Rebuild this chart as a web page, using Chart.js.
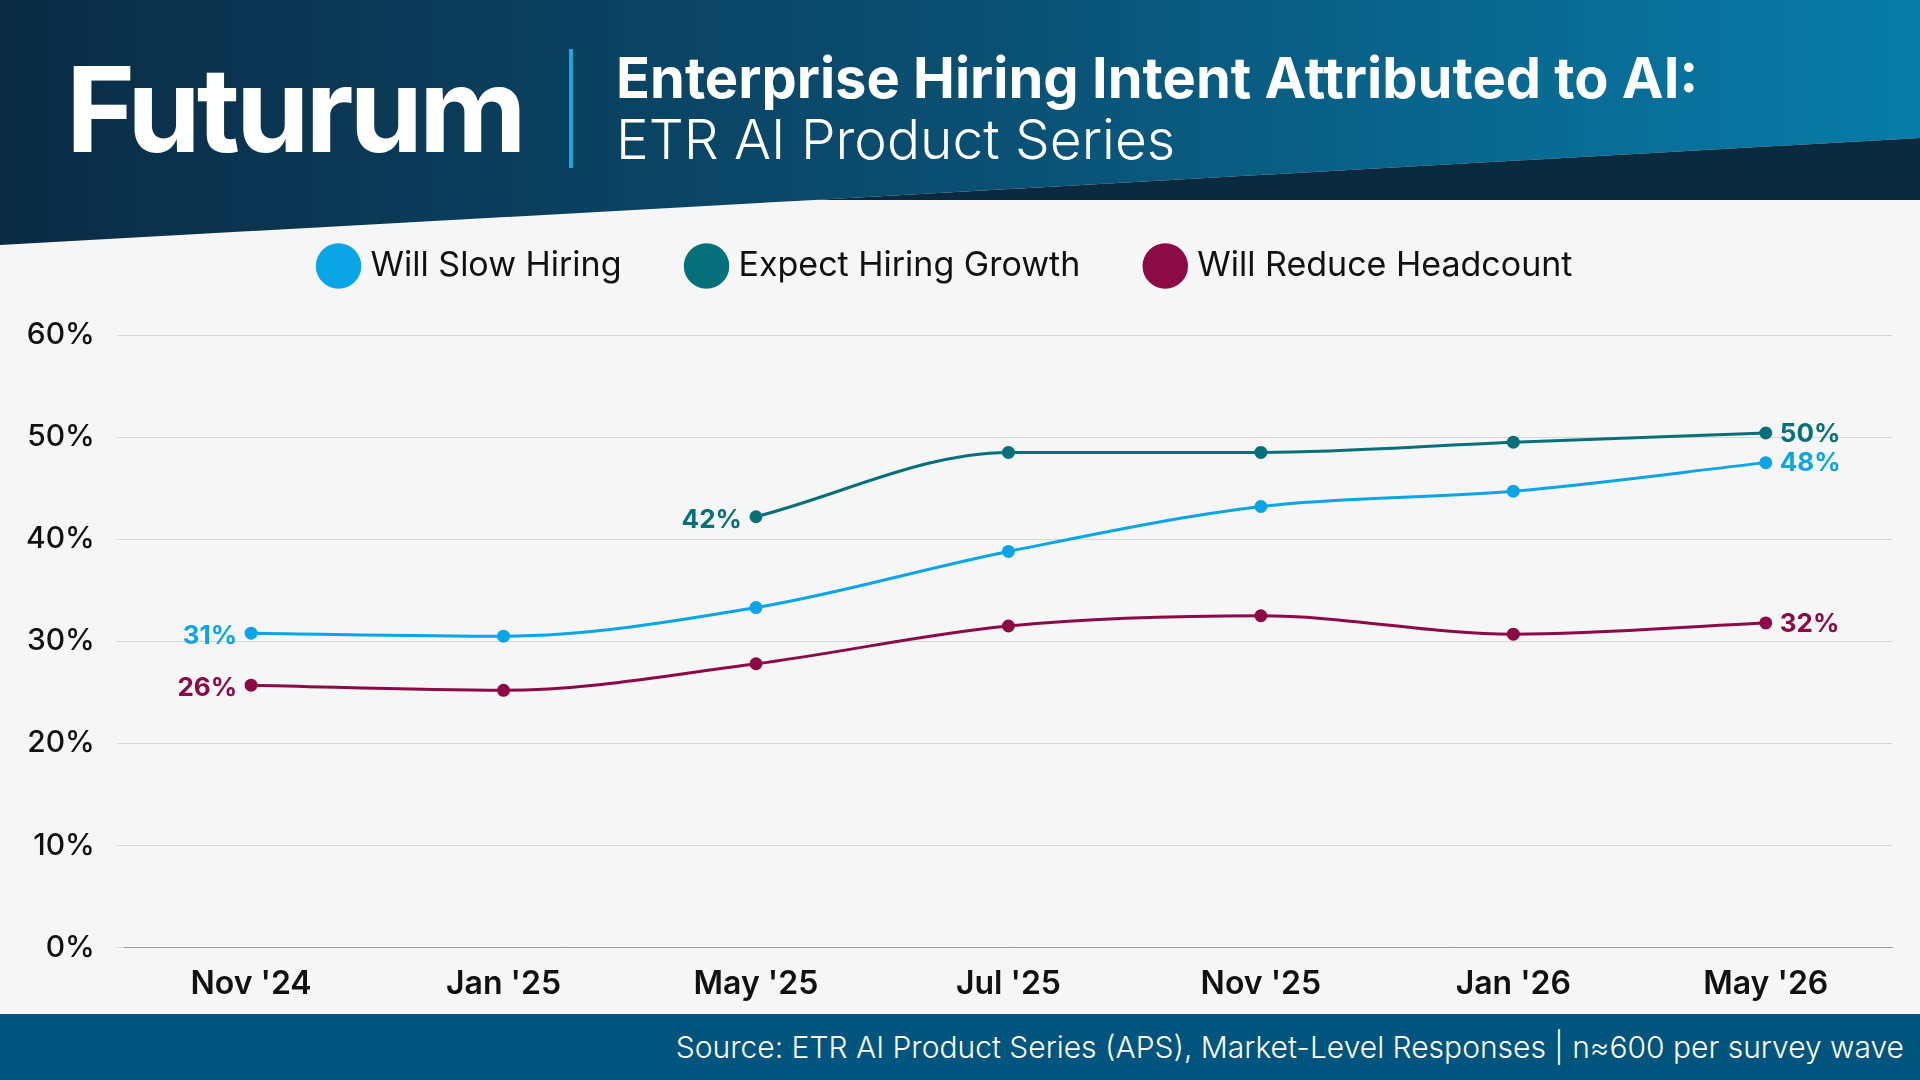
<!DOCTYPE html>
<html><head><meta charset="utf-8">
<script src="https://cdn.jsdelivr.net/npm/chart.js@4/dist/chart.umd.min.js"></script>
<style>
body{margin:0;width:1920px;height:1080px;background:#f6f6f6;font-family:Inter,"Noto Sans",sans-serif;overflow:hidden;position:relative}
#hdr{position:absolute;left:0;top:0;width:1920px;height:245px;background:linear-gradient(90deg,#0b2b44 0%,#0a4f72 50%,#087ca8 100%);clip-path:polygon(0 0,100% 0,100% 138px,814px 200px,0 245px)}
#band{position:absolute;left:0;top:0;width:1920px;height:245px;background:#0b2a40;clip-path:polygon(814px 200px,100% 138px,100% 200px)}
#logo{position:absolute;left:66px;top:38px;color:#fff;font-size:118px;font-weight:700;letter-spacing:-4px}
#vbar{position:absolute;left:569px;top:49px;width:4px;height:119px;background:#1aa7dc}
#t1{position:absolute;left:616px;top:44px;color:#fff;font-size:56px;font-weight:700}
#t2{position:absolute;left:616px;top:106px;color:#fff;font-size:55px;font-weight:300}
#foot{position:absolute;left:0;top:1014px;width:1920px;height:66px;background:#00557f;color:#fff;font-size:30px;font-weight:300;text-align:right;line-height:66px;box-sizing:border-box;padding-right:16px}
#c{position:absolute;left:0;top:175px}
</style></head><body>
<div id="hdr"></div><div id="band"></div>
<div id="logo">Futurum</div><div id="vbar"></div>
<div id="t1">Enterprise Hiring Intent Attributed to AI:</div>
<div id="t2">ETR AI Product Series</div>
<canvas id="c" width="1920" height="839"></canvas>
<div id="foot">Source: ETR AI Product Series (APS), Market-Level Responses | n≈600 per survey wave</div>
<script>
const labels = ["Nov '24","Jan '25","May '25","Jul '25","Nov '25","Jan '26","May '26"];
const slowHiring = [30.8, 30.5, 33.3, 38.8, 43.2, 44.7, 47.5];
const hiringGrowth = [null, null, 42.2, 48.5, 48.5, 49.5, 50.4];
const reduceHeadcount = [25.7, 25.2, 27.8, 31.5, 32.5, 30.7, 31.8];
const yTicks = [0, 10, 20, 30, 40, 50, 60];

const colors = { slow: '#0aa5e6', growth: '#06707a', reduce: '#8c0a45' };
Chart.defaults.font.family = 'Inter, "Noto Sans", sans-serif';

function ds(label, data, color) {
  return { label, data, borderColor: color, backgroundColor: color, pointBackgroundColor: color,
    borderWidth: 3, pointRadius: 5, cubicInterpolationMode: 'monotone', spanGaps: false };
}

// подписи у первой и последней точки
const endLabels = {
  id: 'endLabels',
  afterDatasetsDraw(chart) {
    const ctx = chart.ctx;
    ctx.save();
    ctx.font = '700 26px Inter, "Noto Sans", sans-serif';
    ctx.textBaseline = 'middle';
    chart.data.datasets.forEach((d, i) => {
      const meta = chart.getDatasetMeta(i);
      const first = d.data.findIndex(v => v !== null);
      const last = d.data.length - 1;
      ctx.fillStyle = d.borderColor;
      const p1 = meta.data[first];
      ctx.textAlign = 'right';
      ctx.fillText(Math.round(d.data[first]) + '%', p1.x - 14, p1.y + 3);
      const p2 = meta.data[last];
      ctx.textAlign = 'left';
      ctx.fillText(Math.round(d.data[last]) + '%', p2.x + 14, p2.y + 1);
    });
    ctx.restore();
  }
};

// отступ под легендой
const legendGap = {
  id: 'legendGap',
  beforeInit(chart) {
    const fit = chart.legend.fit;
    chart.legend.fit = function () { fit.bind(chart.legend)(); this.height += 42; };
  }
};

new Chart(document.getElementById('c'), {
  type: 'line',
  data: { labels, datasets: [
    ds('Will Slow Hiring', slowHiring, colors.slow),
    ds('Expect Hiring Growth', hiringGrowth, colors.growth),
    ds('Will Reduce Headcount', reduceHeadcount, colors.reduce)
  ]},
  options: {
    responsive: false, animation: false,
    layout: { padding: { left: 4, right: 28, top: 4, bottom: 0 } },
    plugins: {
      tooltip: { enabled: false },
      legend: { labels: { usePointStyle: true, pointStyle: 'circle', boxWidth: 30, boxHeight: 30, padding: 70,
        color: '#111', font: { size: 34, weight: 400 } } }
    },
    scales: {
      x: { offset: true, grid: { display: false }, border: { color: '#999' },
        ticks: { color: '#111', padding: 10, maxRotation: 0, font: { size: 32, weight: 600 } } },
      y: { min: 0, max: 60, afterBuildTicks: ax => { ax.ticks = yTicks.map(v => ({ value: v })); },
        grid: { color: '#d6d6d6' }, border: { display: false },
        ticks: { color: '#111', padding: 22, font: { size: 30, weight: 500 }, callback: v => v + '%' } }
    }
  },
  plugins: [endLabels, legendGap]
});
</script>
</body></html>
